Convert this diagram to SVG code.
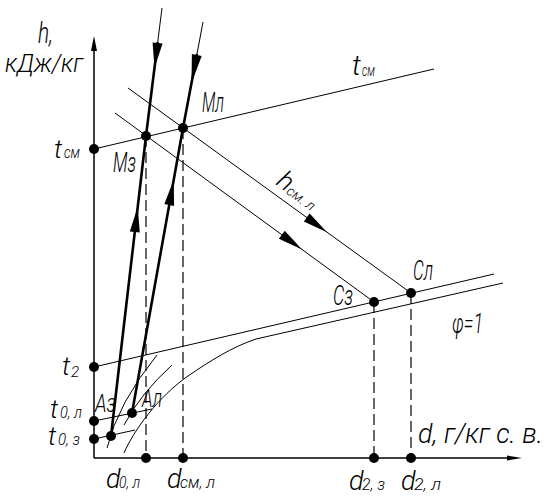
<svg xmlns="http://www.w3.org/2000/svg" width="558" height="502" viewBox="0 0 558 502">
<style>
.t{font-family:Roboto,"Liberation Sans",sans-serif;font-style:italic;font-weight:300;fill:#000}
.thin{fill:none;stroke:#000;stroke-width:1}
.thick{fill:none;stroke:#000;stroke-width:2.6;stroke-linecap:round}
.axis{fill:none;stroke:#000;stroke-width:1.5}
.dash{fill:none;stroke:#000;stroke-width:1.2;stroke-dasharray:11,5}
.ah{fill:#000;stroke:none}
.dot{fill:#000}
</style>
<rect width="558" height="502" fill="#fff"/>
<g id="connectors">
  <line class="axis" x1="94" y1="458" x2="94" y2="48"/>
  <polygon class="ah" points="94,36 97,51 91,51"/>
  <line class="axis" x1="94" y1="458" x2="510" y2="458"/>
  <polygon class="ah" points="522,458 507,455.5 507,460.5"/>
  <line class="thin" x1="94" y1="149" x2="434" y2="69"/>
  <line class="thin" x1="94" y1="367" x2="494" y2="274"/>
  <path class="thin" d="M124,453 C134,430 158,397 188,376 C210,361 232,347 256,339 L503,283"/>
  <path class="thin" d="M107,448 Q118,403 157,355"/>
  <path class="thin" d="M124,425 Q141,393 172,365"/>
  <line class="thin" x1="94" y1="439" x2="135" y2="430"/>
  <line class="thin" x1="94" y1="421" x2="152" y2="409"/>
  <line class="thin" x1="128" y1="88" x2="411" y2="293"/>
  <line class="thin" x1="115" y1="113" x2="374" y2="302"/>
  <polygon class="ah" points="327,232.2 303.8,221.6 309.6,213.4"/>
  <polygon class="ah" points="302,249.5 278.9,238.8 284.8,230.8"/>
  <line class="thin" x1="162" y1="8" x2="157.6" y2="43"/>
  <polyline class="thick" points="157.6,43 146,136 111,436"/>
  <polygon class="ah" points="154.5,68 162.6,43.6 152.6,42.4"/>
  <polygon class="ah" points="137.7,207 139.8,232.6 129.8,231.4"/>
  <line class="thin" x1="203" y1="22" x2="196.8" y2="55"/>
  <polyline class="thick" points="196.8,55 183,128 132,413"/>
  <polygon class="ah" points="191.5,83 201.7,55.9 191.9,54.1"/>
  <polygon class="ah" points="173.7,180 174.1,205.9 164.3,204.1"/>
  <line class="dash" x1="146" y1="136" x2="146" y2="458"/>
  <line class="dash" x1="183" y1="128" x2="183" y2="458"/>
  <line class="dash" x1="374" y1="302" x2="374" y2="458"/>
  <line class="dash" x1="411" y1="293" x2="411" y2="458"/>
</g>
<g id="axis-labels">
  <text class="t" x="38" y="43" font-size="30" textLength="15" lengthAdjust="spacingAndGlyphs">h,</text>
  <text class="t" x="5" y="72" font-size="26" textLength="78" lengthAdjust="spacingAndGlyphs">кДж/кг</text>
  <text class="t" x="418" y="443" font-size="27" textLength="125" lengthAdjust="spacingAndGlyphs">d, г/кг с. в.</text>
</g>
<g id="tcm-top"><text class="t" x="352" y="75" font-size="28">t</text><text class="t" x="362" y="76" font-size="16" textLength="13" lengthAdjust="spacingAndGlyphs">см</text></g>
<g id="tcm-left"><circle class="dot" cx="94" cy="149" r="5"/><text class="t" x="54" y="158" font-size="26">t</text><text class="t" x="64" y="158" font-size="17" textLength="16" lengthAdjust="spacingAndGlyphs">см</text></g>
<g id="Ml"><circle class="dot" cx="183" cy="128" r="5"/><text class="t" x="202" y="112" font-size="27" textLength="22" lengthAdjust="spacingAndGlyphs">Mл</text></g>
<g id="Mz"><circle class="dot" cx="146" cy="136" r="5"/><text class="t" x="113" y="172" font-size="27" textLength="23" lengthAdjust="spacingAndGlyphs">Mз</text></g>
<g id="hcm"><text class="t" transform="translate(275,184) rotate(36)" font-size="26">h<tspan font-size="14" dy="1">см. л</tspan></text></g>
<g id="Cl"><circle class="dot" cx="411" cy="293" r="5"/><text class="t" x="413" y="280" font-size="27" textLength="20" lengthAdjust="spacingAndGlyphs">Cл</text></g>
<g id="Cz"><circle class="dot" cx="374" cy="302" r="5"/><text class="t" x="333" y="305" font-size="27" textLength="20" lengthAdjust="spacingAndGlyphs">Cз</text></g>
<g id="phi"><text class="t" x="452" y="333" font-size="28" textLength="31" lengthAdjust="spacingAndGlyphs">φ=1</text></g>
<g id="t2"><circle class="dot" cx="94" cy="367" r="5"/><text class="t" x="62" y="375" font-size="26">t</text><text class="t" x="71" y="377" font-size="15">2</text></g>
<g id="t0l"><circle class="dot" cx="94" cy="421" r="5"/><text class="t" x="50" y="418" font-size="26">t</text><text class="t" x="60" y="418" font-size="17" textLength="22" lengthAdjust="spacingAndGlyphs">0, л</text></g>
<g id="t0z"><circle class="dot" cx="94" cy="439" r="5"/><text class="t" x="48" y="445" font-size="26">t</text><text class="t" x="58" y="445" font-size="17" textLength="22" lengthAdjust="spacingAndGlyphs">0, з</text></g>
<g id="Az"><circle class="dot" cx="111" cy="436" r="5"/><text class="t" x="95" y="412" font-size="26" textLength="21" lengthAdjust="spacingAndGlyphs">Aз</text></g>
<g id="Al"><circle class="dot" cx="132" cy="413" r="5"/><text class="t" x="142" y="407" font-size="26" textLength="20" lengthAdjust="spacingAndGlyphs">Aл</text></g>
<g id="d0l"><circle class="dot" cx="146" cy="458" r="5"/><text class="t" x="106" y="488" font-size="27">d</text><text class="t" x="119" y="488" font-size="17" textLength="21" lengthAdjust="spacingAndGlyphs">0, л</text></g>
<g id="dcml"><circle class="dot" cx="183" cy="458" r="5"/><text class="t" x="167" y="488" font-size="27">d</text><text class="t" x="180" y="488" font-size="17" textLength="35" lengthAdjust="spacingAndGlyphs">см, л</text></g>
<g id="d2z"><circle class="dot" cx="374" cy="458" r="5"/><text class="t" x="349" y="490" font-size="27">d</text><text class="t" x="362" y="490" font-size="17" textLength="23" lengthAdjust="spacingAndGlyphs">2, з</text></g>
<g id="d2l"><circle class="dot" cx="411" cy="458" r="5"/><text class="t" x="401" y="490" font-size="27">d</text><text class="t" x="414" y="490" font-size="17" textLength="27" lengthAdjust="spacingAndGlyphs">2, л</text></g>
</svg>
